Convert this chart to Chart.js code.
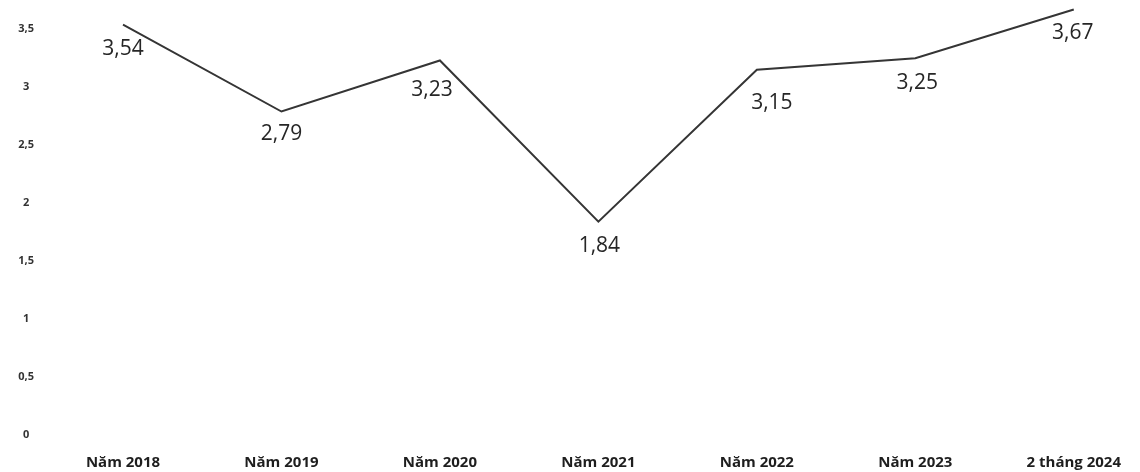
<!DOCTYPE html>
<html>
<head>
<meta charset="utf-8">
<script src="https://cdn.jsdelivr.net/npm/chart.js@4/dist/chart.umd.min.js"></script>
<style>
  html, body { margin: 0; padding: 0; background: #fff; }
  #wrap { width: 1140px; height: 472px; position: relative; }
</style>
</head>
<body>
<div id="wrap"><canvas id="c" width="1140" height="472"></canvas></div>
<script>
const categories = ["Năm 2018", "Năm 2019", "Năm 2020", "Năm 2021", "Năm 2022", "Năm 2023", "2 tháng 2024"];
const values = [3.54, 2.79, 3.23, 1.84, 3.15, 3.25, 3.67];
const yTickValues = [0, 0.5, 1, 1.5, 2, 2.5, 3, 3.5];

const fmt = v => String(v).replace('.', ',');

// label offsets relative to each point (dx, dy)
const labelOffsets = [[0, 24], [0, 23], [-8, 30], [1, 24], [15, 33], [2, 25], [-1, 24]];

const valueLabels = {
  id: 'valueLabels',
  afterDatasetsDraw(chart) {
    const ctx = chart.ctx;
    const meta = chart.getDatasetMeta(0);
    ctx.save();
    ctx.font = '21px "Open Sans", "Noto Sans", sans-serif';
    ctx.fillStyle = '#262626';
    ctx.textAlign = 'center';
    ctx.textBaseline = 'middle';
    meta.data.forEach((pt, i) => {
      const off = labelOffsets[i] || [0, 24];
      ctx.fillText(fmt(values[i]), pt.x + off[0], pt.y + off[1]);
    });
    ctx.restore();
  }
};

new Chart(document.getElementById('c'), {
  type: 'line',
  data: {
    labels: categories,
    datasets: [{
      data: values,
      borderColor: '#353535',
      borderWidth: 2,
      pointRadius: 0,
      tension: 0,
      fill: false
    }]
  },
  options: {
    responsive: false,
    animation: false,
    devicePixelRatio: 1,
    layout: { padding: { top: 6, right: 62, left: 0, bottom: 0 } },
    plugins: { legend: { display: false }, tooltip: { enabled: false } },
    scales: {
      x: {
        offset: false,
        grid: { display: false, drawTicks: false },
        border: { display: false },
        ticks: {
          color: '#1e1e1e',
          font: { family: '"Open Sans", sans-serif', size: 15, weight: 'bold' },
          padding: 19,
          maxRotation: 0,
          autoSkip: false
        },
        afterFit(scale) { scale.height = 37; }
      },
      y: {
        min: 0,
        max: 3.7,
        grid: { display: false, drawTicks: false },
        border: { display: false },
        afterBuildTicks(scale) { scale.ticks = yTickValues.map(v => ({ value: v })); },
        ticks: {
          color: '#333',
          font: { family: '"Open Sans", sans-serif', size: 11, weight: 'bold' },
          crossAlign: 'center',
          padding: 89,
          callback: v => fmt(v)
        },
        afterFit(scale) {
          scale.width = 123;
          scale.paddingTop = 0;
          scale.paddingBottom = 0;
        }
      }
    }
  },
  plugins: [valueLabels]
});
</script>
</body>
</html>
